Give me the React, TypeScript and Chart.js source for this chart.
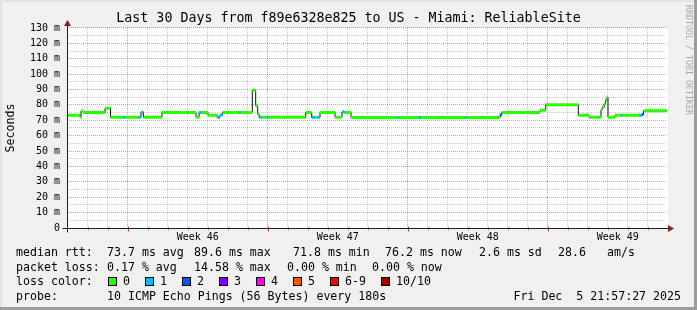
import React, { useEffect, useRef } from 'react';
import { Chart, registerables } from 'chart.js';

Chart.register(...registerables);

// ---------- text ----------
const TITLE = 'Last 30 Days from f89e6328e825 to US - Miami: ReliableSite';
const Y_TITLE = 'Seconds';
const WATERMARK = 'RRDTOOL / TOBI OETIKER';

// ---------- axis ticks ----------
const X_MIN_DAY = 0;
const X_MAX_DAY = 30;
const FIRST_MIDNIGHT_DAY = 1.035;
const WEEK_START_DAYS = [3.035, 10.035, 17.035, 24.035];
const WEEK_LABEL_DAYS = [6.535, 13.535, 20.535, 27.535];
const WEEK_LABELS = ['Week 46', 'Week 47', 'Week 48', 'Week 49'];
const Y_MIN_MS = 0;
const Y_MAX_MS = 130;
const Y_STEP_MS = 5;
const Y_LABEL_STEP_MS = 10;

// ---------- series: median rtt segments (start day, value ms, lost pings) ----------
const SEG_START_DAY = [0.00, 0.65, 0.70, 0.80, 1.90, 2.175, 2.825, 2.90, 3.60, 3.70,
  3.825, 4.75, 6.45, 6.60, 6.70, 7.05, 7.50, 7.65, 7.775, 8.60,
  8.675, 9.265, 9.435, 9.535, 9.60, 9.75, 9.975, 10.05, 11.935, 12.235,
  12.40, 12.535, 12.65, 13.40, 13.75, 13.875, 14.20, 16.525, 16.59, 17.60,
  17.70, 19.875, 19.94, 21.65, 21.735, 23.65, 23.935, 25.565, 26.10, 26.70,
  26.765, 26.865, 26.935, 27.00, 27.05, 27.40, 27.70, 27.775, 28.60, 28.75, 28.825];
const SEG_MEDIAN_MS = [73.3, 71.9, 76.0, 75.1, 77.8, 71.9, 71.9, 71.9, 71.9, 75.3,
  71.9, 75.1, 71.9, 75.1, 75.1, 73.3, 71.9, 73.5, 75.1, 75.1,
  75.1, 89.6, 79.5, 74.0, 71.9, 71.9, 71.9, 71.9, 75.1, 71.9,
  71.9, 71.9, 75.1, 71.9, 75.5, 75.1, 71.8, 71.8, 71.8, 71.8,
  71.8, 71.8, 71.8, 73.5, 75.1, 76.5, 80.1, 73.3, 71.9, 76.9,
  78.6, 80.8, 83.4, 85.1, 71.9, 73.3, 73.3, 73.3, 73.3, 73.8, 76.2];
const SEG_LOSS = [0, 0, 0, 0, 0, 0, 1, 0, 1, 1,
  0, 0, 0, 1, 0, 0, 1, 1, 0, 1,
  0, 0, 0, 0, 1, 0, 1, 0, 0, 1,
  0, 1, 0, 0, 1, 0, 0, 1, 0, 1,
  0, 1, 0, 2, 0, 0, 0, 0, 0, 0,
  0, 0, 0, 0, 0, 0, 1, 0, 1, 2, 0];

// ---------- legend ----------
const LOSS_LABELS = ['0', '1', '2', '3', '4', '5', '6-9', '10/10'];
const LOSS_COLORS = ['#26ff00', '#00b8ff', '#0059ff', '#7e00ff', '#ff00ff', '#ff5500', '#ff0000', '#a10000'];
const RTT_ITEMS = ['median rtt:', '73.7 ms avg', '89.6 ms max', '71.8 ms min', '76.2 ms now', '2.6 ms sd', '28.6', 'am/s'];
const LOSS_ITEMS = ['packet loss:', '0.17 % avg', '14.58 % max', '0.00 % min', '0.00 % now'];
const LOSS_COLOR_TITLE = 'loss color:';
const PROBE_ITEMS = ['probe:', '10 ICMP Echo Pings (56 Bytes) every 180s'];
const DATE_TEXT = 'Fri Dec  5 21:57:27 2025';

// ---------- layout / styles ----------
const W = 697;
const H = 310;
const MONO = '"DejaVu Sans Mono", monospace';
const GRID_COLOR = 'rgba(140,140,140,0.45)';
const MGRID_COLOR = 'rgba(150,30,30,0.42)';
const AXIS_COLOR = '#1c1c1c';
const ARROW_COLOR = '#8a1c1c';
const RTT_X = [16, 107, 194, 293, 385, 479, 558, 607];
const LOSS_X = [16, 107, 194, 287, 372];
const BOX_X = [108, 145, 182, 219, 256, 293, 330, 381];
const ROW_Y = [253, 267.5, 282, 296.5];

const near = (a: number, b: number) => Math.abs(a - b) < 1e-6;

function buildLossSegments(level: number) {
  const pts: { x: number; y: number | null }[] = [];
  for (let i = 0; i < SEG_START_DAY.length; i++) {
    if (SEG_LOSS[i] !== level) continue;
    const s = SEG_START_DAY[i];
    const e = i + 1 < SEG_START_DAY.length ? SEG_START_DAY[i + 1] : X_MAX_DAY;
    pts.push({ x: s, y: SEG_MEDIAN_MS[i] }, { x: e, y: SEG_MEDIAN_MS[i] }, { x: e, y: null });
  }
  return pts;
}

function buildStepLine() {
  const pts = SEG_START_DAY.map((s, i) => ({ x: s, y: SEG_MEDIAN_MS[i] }));
  pts.push({ x: X_MAX_DAY, y: SEG_MEDIAN_MS[SEG_MEDIAN_MS.length - 1] });
  return pts;
}

const rrdPlugin = {
  id: 'rrdDecor',
  beforeDraw(chart: any) {
    const { ctx, chartArea: a } = chart;
    ctx.save();
    ctx.fillStyle = '#f0f0f0';
    ctx.fillRect(0, 0, W, H);
    // frame
    ctx.fillStyle = '#e2e2e2';
    ctx.fillRect(0, 0, W, 2);
    ctx.fillRect(0, 0, 2, H);
    ctx.fillStyle = '#9c9c9c';
    ctx.fillRect(W - 3, 0, 3, H);
    ctx.fillRect(0, H - 3, W, 3);
    ctx.fillStyle = '#ffffff';
    ctx.fillRect(a.left, a.top, a.right - a.left + 1, a.bottom - a.top);
    ctx.restore();
  },
  afterDraw(chart: any) {
    const { ctx, chartArea: a } = chart;
    const xs = chart.scales.x;
    ctx.save();
    // axes
    const ax = Math.round(a.left) + 0.5;
    const ay = Math.round(a.bottom) + 0.5;
    // small tick marks under the x axis at every grid line
    xs.ticks.forEach((t: any) => {
      if (WEEK_LABEL_DAYS.some((d) => near(d, t.value))) return;
      const px = Math.round(xs.getPixelForValue(t.value)) + 0.5;
      const major = WEEK_START_DAYS.some((d) => Math.abs(d - t.value) < 1e-3);
      ctx.strokeStyle = major ? 'rgba(150,30,30,0.8)' : 'rgba(140,140,140,0.8)';
      ctx.beginPath();
      ctx.moveTo(px, ay - 2);
      ctx.lineTo(px, ay + (major ? 3 : 2));
      ctx.stroke();
    });
    ctx.strokeStyle = AXIS_COLOR;
    ctx.lineWidth = 1;
    ctx.beginPath();
    ctx.moveTo(ax, ay + 4);
    ctx.lineTo(ax, a.top - 4);
    ctx.moveTo(ax - 5, ay);
    ctx.lineTo(a.right + 2, ay);
    ctx.stroke();
    ctx.fillStyle = ARROW_COLOR;
    ctx.beginPath();
    ctx.moveTo(ax, a.top - 8);
    ctx.lineTo(ax - 3.5, a.top - 2);
    ctx.lineTo(ax + 3.5, a.top - 2);
    ctx.closePath();
    ctx.fill();
    ctx.beginPath();
    ctx.moveTo(a.right + 7, ay);
    ctx.lineTo(a.right + 1, ay - 3.5);
    ctx.lineTo(a.right + 1, ay + 3.5);
    ctx.closePath();
    ctx.fill();

    // legend text
    ctx.fillStyle = '#000';
    ctx.font = '11.6px ' + MONO;
    ctx.textBaseline = 'middle';
    ctx.textAlign = 'left';
    RTT_ITEMS.forEach((t, i) => ctx.fillText(t, RTT_X[i], ROW_Y[0]));
    LOSS_ITEMS.forEach((t, i) => ctx.fillText(t, LOSS_X[i], ROW_Y[1]));
    ctx.fillText(LOSS_COLOR_TITLE, 16, ROW_Y[2]);
    LOSS_LABELS.forEach((t, i) => {
      const bx = BOX_X[i];
      ctx.fillStyle = LOSS_COLORS[i];
      ctx.fillRect(bx + 0.5, ROW_Y[2] - 4.5, 8, 8);
      ctx.strokeStyle = '#000';
      ctx.strokeRect(bx + 0.5, ROW_Y[2] - 4.5, 8, 8);
      ctx.fillStyle = '#000';
      ctx.fillText(t, bx + 15, ROW_Y[2]);
    });
    ctx.fillText(PROBE_ITEMS[0], 16, ROW_Y[3]);
    ctx.fillText(PROBE_ITEMS[1], 107, ROW_Y[3]);
    ctx.textAlign = 'right';
    ctx.fillText(DATE_TEXT, 681, ROW_Y[3]);

    // watermark
    ctx.translate(688, 5);
    ctx.rotate(Math.PI / 2);
    ctx.textAlign = 'left';
    ctx.fillStyle = '#a8a8a8';
    ctx.font = '8.3px ' + MONO;
    ctx.fillText(WATERMARK, 0, 0);
    ctx.restore();
  },
};

export default function App() {
  const ref = useRef<HTMLCanvasElement>(null);
  useEffect(() => {
    const lossLevels = Array.from(new Set(SEG_LOSS)).sort((a, b) => b - a);
    const lossDatasets = lossLevels.map((lvl) => ({
      label: 'loss ' + LOSS_LABELS[lvl],
      data: buildLossSegments(lvl),
      borderColor: LOSS_COLORS[lvl],
      backgroundColor: LOSS_COLORS[lvl],
      borderWidth: 3,
      borderCapStyle: 'butt',
      pointRadius: 0,
      spanGaps: false,
      fill: false,
    }));
    const chart = new Chart(ref.current as HTMLCanvasElement, {
      type: 'line',
      data: {
        datasets: [
          ...lossDatasets,
          {
            label: 'median',
            data: buildStepLine(),
            borderColor: '#111111',
            borderWidth: 1,
            stepped: 'before',
            pointRadius: 0,
            fill: false,
          },
        ] as any,
      },
      options: {
        responsive: false,
        animation: false,
        devicePixelRatio: 1,
        events: [],
        layout: { padding: { left: 0, right: 0, top: 0, bottom: 0 } },
        plugins: {
          legend: { display: false },
          tooltip: { enabled: false },
          title: {
            display: true,
            text: TITLE,
            color: '#000',
            font: { family: MONO, size: 13.3, weight: 'normal' },
            padding: { top: 11, bottom: 1 },
          },
        },
        scales: {
          x: {
            type: 'linear',
            min: X_MIN_DAY,
            max: X_MAX_DAY,
            afterBuildTicks: (scale: any) => {
              const vals: number[] = [];
              for (let d = FIRST_MIDNIGHT_DAY; d < X_MAX_DAY; d += 1) vals.push(Math.round(d * 1000) / 1000);
              WEEK_LABEL_DAYS.forEach((d) => vals.push(d));
              vals.sort((p, q) => p - q);
              scale.ticks = vals.map((v) => ({ value: v }));
            },
            afterFit: (scale: any) => { scale.height = 82; },
            ticks: {
              autoSkip: false,
              maxRotation: 0,
              minRotation: 0,
              padding: 3,
              color: '#000',
              font: { family: MONO, size: 10 },
              callback: (v: any) => {
                const i = WEEK_LABEL_DAYS.findIndex((d) => near(d, Number(v)));
                return i >= 0 ? WEEK_LABELS[i] : '';
              },
            },
            grid: {
              drawTicks: false,
              lineWidth: 1,
              color: (c: any) => {
                const v = c.tick ? c.tick.value : NaN;
                if (WEEK_LABEL_DAYS.some((d) => near(d, v))) return 'rgba(0,0,0,0)';
                if (WEEK_START_DAYS.some((d) => Math.abs(d - v) < 1e-3)) return MGRID_COLOR;
                return GRID_COLOR;
              },
            },
            border: { display: false, dash: [1, 1] },
          },
          y: {
            type: 'linear',
            position: 'left',
            min: Y_MIN_MS,
            max: Y_MAX_MS,
            afterFit: (scale: any) => { scale.width = 67; },
            title: {
              display: true,
              text: Y_TITLE,
              color: '#000',
              font: { family: MONO, size: 11.6 },
              padding: { top: 4, bottom: 0 },
            },
            ticks: {
              stepSize: Y_STEP_MS,
              autoSkip: false,
              padding: 7,
              color: '#000',
              font: { family: MONO, size: 10 },
              callback: (v: any) => {
                const n = Number(v);
                if (n % Y_LABEL_STEP_MS !== 0) return '';
                return n === 0 ? '0' : n + ' m';
              },
            },
            grid: {
              drawTicks: false,
              lineWidth: 1,
              color: (c: any) => {
                const v = c.tick ? c.tick.value : 0;
                return v % Y_LABEL_STEP_MS === 0 ? MGRID_COLOR : GRID_COLOR;
              },
            },
            border: { display: false, dash: [1, 1] },
          },
          yPad: {
            type: 'linear',
            position: 'right',
            display: true,
            afterFit: (scale: any) => { scale.width = 30; },
            ticks: { display: false },
            grid: { display: false, drawTicks: false },
            border: { display: false },
          },
        },
      } as any,
      plugins: [rrdPlugin],
    });
    return () => chart.destroy();
  }, []);
  return (
    <div style={{ position: 'absolute', left: 0, top: 0, width: W, height: H }}>
      <canvas ref={ref} width={W} height={H} style={{ display: 'block', width: W, height: H }} />
    </div>
  );
}
